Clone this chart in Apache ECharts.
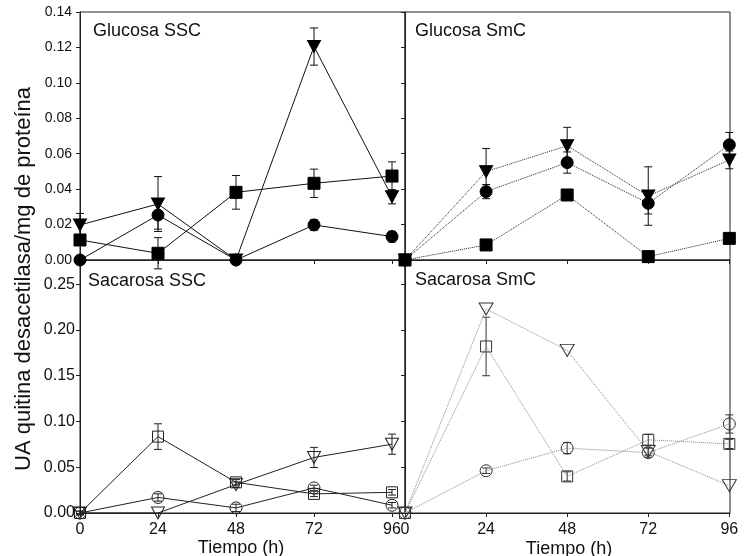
<!DOCTYPE html>
<html><head><meta charset="utf-8">
<script src="https://cdn.jsdelivr.net/npm/echarts@6/dist/echarts.min.js"></script>
<style>html,body{margin:0;padding:0;background:#fff}#c{width:749px;height:556px}</style>
</head><body><div id="c"></div>
<script>
// ---- data ----
const hours = [0, 24, 48, 72, 96];
const xTickValues = [0, 24, 48, 72, 96];
const topYTicks = [0, 0.02, 0.04, 0.06, 0.08, 0.10, 0.12, 0.14];
const bottomYTicks = [0, 0.05, 0.10, 0.15, 0.20, 0.25];
const panelTitles = ['Glucosa SSC', 'Glucosa SmC', 'Sacarosa SSC', 'Sacarosa SmC'];
const xAxisTitle = 'Tiempo (h)';
const yAxisTitle = 'UA quitina desacetilasa/mg de proteína';

// Glucosa SSC
const gSSC_circle = [0, 0.0254, 0, 0.0198, 0.0132];
const gSSC_circle_err = [0, 0.008, 0, 0.003, 0.003];
const gSSC_square = [0.0113, 0.0038, 0.0382, 0.0433, 0.0474];
const gSSC_square_err = [0.002, 0.0088, 0.0095, 0.008, 0.008];
const gSSC_tri = [0.0198, 0.0316, 0, 0.1205, 0.0357];
const gSSC_tri_err = [0.0065, 0.0155, 0, 0.0105, 0.004];
// Glucosa SmC
const gSmC_circle = [0, 0.0386, 0.055, 0.032, 0.065];
const gSmC_circle_err = [0, 0.004, 0.006, 0.006, 0.007];
const gSmC_tri = [0, 0.0499, 0.0645, 0.0361, 0.0565];
const gSmC_tri_err = [0, 0.013, 0.0104, 0.0165, 0.005];
const gSmC_square = [0, 0.0085, 0.0367, 0.0019, 0.0122];
const gSmC_square_err = [0, 0, 0, 0, 0];
// Sacarosa SSC
const sSSC_square = [0, 0.0835, 0.0335, 0.0209, 0.0226];
const sSSC_square_err = [0.002, 0.014, 0.003, 0.003, 0.003];
const sSSC_circle = [0, 0.017, 0.0056, 0.0274, 0.0085];
const sSSC_circle_err = [0.002, 0.004, 0.004, 0.003, 0.003];
const sSSC_tri = [0, 0, 0.031, 0.0607, 0.0752];
const sSSC_tri_err = [0, 0, 0.003, 0.011, 0.011];
// Sacarosa SmC
const sSmC_tri = [0, 0.223, 0.1777, 0.0672, 0.0299];
const sSmC_tri_err = [0, 0, 0, 0.004, 0];
const sSmC_square = [0, 0.182, 0.040, 0.080, 0.0755];
const sSmC_square_err = [0, 0.032, 0.005, 0.006, 0.005];
const sSmC_circle = [0, 0.0462, 0.0709, 0.066, 0.0973];
const sSmC_circle_err = [0, 0.003, 0.006, 0.005, 0.01];

// ---- chart ----
const FONT = '"Liberation Sans", Arial, sans-serif';
const chart = echarts.init(document.getElementById('c'), null, {renderer: 'canvas'});

const grids = [
  {left: 80, top: 12, width: 325, height: 248},
  {left: 405, top: 12, width: 325, height: 248},
  {left: 80, top: 260, width: 325, height: 253},
  {left: 405, top: 260, width: 325, height: 253}
].map(g => Object.assign(g, {show: true, borderColor: '#222', borderWidth: 1, backgroundColor: 'transparent'}));

function xAxis(i, max, labels) {
  return {
    type: 'value', gridIndex: i, min: 0, max: max,
    axisLine: {show: true, onZero: false, lineStyle: {color: '#222', width: 1}},
    axisTick: {show: true, inside: false, length: 4, customValues: xTickValues, lineStyle: {color: '#222'}},
    axisLabel: {show: labels, customValues: xTickValues, margin: 9, fontSize: 16, color: '#111', fontFamily: FONT},
    splitLine: {show: false}
  };
}
function yAxis(i, max, ticks, labels, fs, margin) {
  return {
    type: 'value', gridIndex: i, min: 0, max: max,
    axisLine: {show: true, onZero: false, lineStyle: {color: '#222', width: 1}},
    axisTick: {show: true, inside: false, length: 4, customValues: ticks, lineStyle: {color: '#222'}},
    axisLabel: {show: labels, customValues: ticks, margin: margin, fontSize: fs, color: '#111', fontFamily: FONT,
      formatter: v => v.toFixed(2)},
    splitLine: {show: false}
  };
}

const series = [];
function pts(vals) { return hours.map((h, k) => [h, vals[k]]); }
function addLine(gi, vals, shape, filled, lineType, lineColor, markColor, size) {
  const sym = shape === 'circle' ? 'circle' : shape === 'square' ? 'rect' : 'triangle';
  series.push({
    type: 'line', xAxisIndex: gi, yAxisIndex: gi, data: pts(vals),
    symbol: sym, symbolSize: size, symbolRotate: shape === 'tri' ? 180 : 0,
    showSymbol: true, clip: false, z: 3, animation: false,
    lineStyle: {color: lineColor, width: 1, type: lineType},
    itemStyle: filled ? {color: markColor, borderColor: markColor, borderWidth: 1}
                      : {color: 'rgba(255,255,255,0)', borderColor: markColor, borderWidth: 1}
  });
}
function addErr(gi, vals, errs, color) {
  const data = [];
  hours.forEach((h, k) => { if (errs[k] > 0) data.push([h, vals[k] - errs[k], vals[k] + errs[k]]); });
  series.push({
    type: 'custom', xAxisIndex: gi, yAxisIndex: gi, data: data, z: 2, clip: false, animation: false,
    encode: {x: 0, y: [1, 2]},
    renderItem: function (params, api) {
      const x = api.value(0), lo = api.value(1), hi = api.value(2);
      const a = api.coord([x, hi]), b = api.coord([x, lo]);
      const w = 4, st = {stroke: color, lineWidth: 1};
      return {type: 'group', children: [
        {type: 'line', shape: {x1: a[0], y1: a[1], x2: b[0], y2: b[1]}, style: st},
        {type: 'line', shape: {x1: a[0] - w, y1: a[1], x2: a[0] + w, y2: a[1]}, style: st},
        {type: 'line', shape: {x1: b[0] - w, y1: b[1], x2: b[0] + w, y2: b[1]}, style: st}
      ]};
    }
  });
}

// Glucosa SSC
addErr(0, gSSC_circle, gSSC_circle_err, '#111');
addErr(0, gSSC_square, gSSC_square_err, '#111');
addErr(0, gSSC_tri, gSSC_tri_err, '#111');
addLine(0, gSSC_circle, 'circle', true, 'solid', '#111', '#000', 12);
addLine(0, gSSC_square, 'square', true, 'solid', '#111', '#000', 12);
addLine(0, gSSC_tri, 'tri', true, 'solid', '#111', '#000', [13, 12]);
// Glucosa SmC
addErr(1, gSmC_circle, gSmC_circle_err, '#111');
addErr(1, gSmC_tri, gSmC_tri_err, '#111');
addErr(1, gSmC_square, gSmC_square_err, '#111');
addLine(1, gSmC_circle, 'circle', true, 'dotted', '#222', '#000', 12);
addLine(1, gSmC_tri, 'tri', true, 'dotted', '#222', '#000', [13, 12]);
addLine(1, gSmC_square, 'square', true, 'dotted', '#222', '#000', 12);
// Sacarosa SSC
addErr(2, sSSC_square, sSSC_square_err, '#222');
addErr(2, sSSC_circle, sSSC_circle_err, '#222');
addErr(2, sSSC_tri, sSSC_tri_err, '#222');
addLine(2, sSSC_square, 'square', false, 'solid', '#222', '#222', 11);
addLine(2, sSSC_circle, 'circle', false, 'solid', '#222', '#222', 12);
addLine(2, sSSC_tri, 'tri', false, 'solid', '#222', '#222', [13, 12]);
// Sacarosa SmC
addErr(3, sSmC_tri, sSmC_tri_err, '#333');
addErr(3, sSmC_square, sSmC_square_err, '#333');
addErr(3, sSmC_circle, sSmC_circle_err, '#333');
addLine(3, sSmC_tri, 'tri', false, 'dotted', '#888', '#333', [14, 12]);
addLine(3, sSmC_square, 'square', false, 'dotted', '#888', '#333', 11);
addLine(3, sSmC_circle, 'circle', false, 'dotted', '#888', '#333', 12);

function txt(s, x, y, fs, opts) {
  return Object.assign({type: 'text', x: x, y: y, z: 10, silent: true,
    style: {text: s, fontSize: fs, fontFamily: FONT, fill: '#111', textAlign: 'left', textVerticalAlign: 'middle'}}, opts || {});
}
const graphic = [
  txt(panelTitles[0], 93, 31, 18),
  txt(panelTitles[1], 415, 31, 18),
  txt(panelTitles[2], 88, 281, 18),
  txt(panelTitles[3], 415, 280, 18),
  {type: 'text', x: 241, y: 548, z: 10, silent: true, style: {text: xAxisTitle, fontSize: 18, fontFamily: FONT, fill: '#111', textAlign: 'center', textVerticalAlign: 'middle'}},
  {type: 'text', x: 569, y: 549, z: 10, silent: true, style: {text: xAxisTitle, fontSize: 18, fontFamily: FONT, fill: '#111', textAlign: 'center', textVerticalAlign: 'middle'}},
  {type: 'text', x: 24, y: 279, rotation: Math.PI / 2, z: 10, silent: true, style: {text: yAxisTitle, fontSize: 22, fontFamily: FONT, fill: '#111', textAlign: 'center', textVerticalAlign: 'middle'}}
];

chart.setOption({
  animation: false,
  backgroundColor: '#fff',
  grid: grids,
  xAxis: [xAxis(0, 100, false), xAxis(1, 96.2, false), xAxis(2, 100, true), xAxis(3, 96.2, true)],
  yAxis: [
    yAxis(0, 0.14, topYTicks, true, 14, 8),
    yAxis(1, 0.14, topYTicks, false, 14, 8),
    yAxis(2, 0.2765, bottomYTicks, true, 16, 5),
    yAxis(3, 0.2765, bottomYTicks, false, 16, 5)
  ],
  series: series,
  graphic: graphic
});
</script></body></html>
